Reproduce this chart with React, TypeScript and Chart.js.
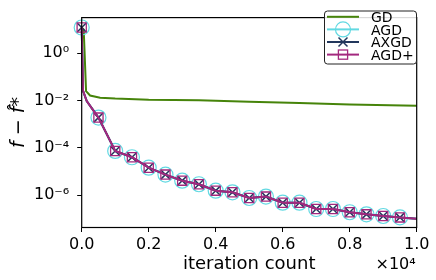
import React, { useEffect, useRef } from "react";
import { Chart, registerables } from "chart.js";

Chart.register(...registerables);

// ---- data ----
const gdIters = [0, 60, 130, 250, 550, 1000, 2000, 3500, 5000, 6500, 8000, 10000];
const gdValues = [12.2, 10, 0.025, 0.0163, 0.0132, 0.0121, 0.0108, 0.0102, 0.0089, 0.0078, 0.0068, 0.006];

const accelIters = [0, 40, 150, 500, 1000, 1500, 2000, 2500, 3000, 3500, 4000, 4500, 5000, 5500, 6000, 6500, 7000, 7500, 8000, 8500, 9000, 9500, 10000];
const agdValues = [12.2, 0.026, 0.0095, 1.9e-3, 7.4e-5, 4.0e-5, 1.45e-5, 7.4e-6, 4.1e-6, 2.9e-6, 1.55e-6, 1.32e-6, 7.6e-7, 8.7e-7, 4.8e-7, 4.8e-7, 2.6e-7, 2.6e-7, 1.9e-7, 1.55e-7, 1.32e-7, 1.15e-7, 1.0e-7];
const axgdValues = [12.2, 0.026, 0.0095, 1.9e-3, 7.4e-5, 4.0e-5, 1.45e-5, 7.4e-6, 4.1e-6, 2.9e-6, 1.55e-6, 1.32e-6, 7.6e-7, 8.7e-7, 4.8e-7, 4.8e-7, 2.6e-7, 2.6e-7, 1.9e-7, 1.55e-7, 1.32e-7, 1.15e-7, 1.0e-7];
const agdPlusValues = [12.2, 0.026, 0.0095, 1.9e-3, 7.4e-5, 4.0e-5, 1.45e-5, 7.4e-6, 4.1e-6, 2.9e-6, 1.55e-6, 1.32e-6, 7.6e-7, 8.7e-7, 4.8e-7, 4.8e-7, 2.6e-7, 2.6e-7, 1.9e-7, 1.55e-7, 1.32e-7, 1.15e-7, 1.0e-7];

const markerIters = [0, 500, 1000, 1500, 2000, 2500, 3000, 3500, 4000, 4500, 5000, 5500, 6000, 6500, 7000, 7500, 8000, 8500, 9000, 9500];

const seriesNames = ["GD", "AGD", "AXGD", "AGD+"];
const xTickValues = [0, 2000, 4000, 6000, 8000, 10000];
const xTickLabels = ["0.0", "0.2", "0.4", "0.6", "0.8", "1.0"];
const yTickValues = [1e-6, 1e-4, 1e-2, 1];
const yTickLabels = ["10⁻⁶", "10⁻⁴", "10⁻²", "10⁰"];
const xTitle = "iteration count";
const yTitle = "f − f̂*";
const xOffsetText = "×10⁴";

// ---- styles ----
const FONT = "DejaVu Sans";
const C_GD = "#46840a";
const C_AGD = "#62d9e2";
const C_AXGD = "#22375c";
const C_AGDP = "#a3287e";

const toPts = (xs: number[], ys: number[]) => xs.map((x, i) => ({ x, y: ys[i] }));
const markR = (r: number) => (ctx: any) => (ctx.raw && markerIters.includes(ctx.raw.x) ? r : 0);

const decorPlugin = {
  id: "decor",
  afterDraw(chart: any) {
    const { ctx, chartArea: a } = chart;
    ctx.save();
    // spines
    ctx.strokeStyle = "#000";
    ctx.lineWidth = 1.2;
    ctx.strokeRect(a.left, a.top, a.right - a.left, a.bottom - a.top);
    // offset text
    ctx.fillStyle = "#000";
    ctx.font = `16px "${FONT}"`;
    ctx.textAlign = "right";
    ctx.textBaseline = "alphabetic";
    ctx.fillText(xOffsetText, a.right - 1, 269);
    // legend
    const bx = 324.5, by = 11, bw = 92, bh = 53;
    ctx.beginPath();
    ctx.roundRect(bx, by, bw, bh, 3);
    ctx.fillStyle = "rgba(255,255,255,0.85)";
    ctx.fill();
    ctx.strokeStyle = "#222";
    ctx.lineWidth = 1;
    ctx.stroke();
    const colors = [C_GD, C_AGD, C_AXGD, C_AGDP];
    const x0 = 327, x1 = 359, xm = (x0 + x1) / 2;
    seriesNames.forEach((name, i) => {
      const y = 16.8 + i * 12.6;
      ctx.strokeStyle = colors[i];
      ctx.lineWidth = 2;
      ctx.beginPath();
      ctx.moveTo(x0, y);
      ctx.lineTo(x1, y);
      ctx.stroke();
      if (i === 1) {
        ctx.lineWidth = 1.2;
        ctx.beginPath();
        ctx.arc(xm, y, 7.5, 0, Math.PI * 2);
        ctx.stroke();
      } else if (i === 2) {
        ctx.lineWidth = 1.5;
        const s = 4.5;
        ctx.beginPath();
        ctx.moveTo(xm - s, y - s);
        ctx.lineTo(xm + s, y + s);
        ctx.moveTo(xm - s, y + s);
        ctx.lineTo(xm + s, y - s);
        ctx.stroke();
      } else if (i === 3) {
        ctx.lineWidth = 1.3;
        ctx.strokeRect(xm - 4.6, y - 4.6, 9.2, 9.2);
      }
      ctx.fillStyle = "#000";
      ctx.font = `14px "${FONT}"`;
      ctx.textAlign = "left";
      ctx.textBaseline = "alphabetic";
      ctx.fillText(name, 371, y + 5.2);
    });
    ctx.restore();
  },
};

export default function App() {
  const ref = useRef<HTMLCanvasElement | null>(null);
  useEffect(() => {
    document.body.style.margin = "0";
    const canvas = ref.current;
    if (!canvas) return;
    const chart = new Chart(canvas, {
      type: "line",
      data: {
        datasets: [
          {
            label: seriesNames[0],
            data: toPts(gdIters, gdValues),
            borderColor: C_GD,
            borderWidth: 2,
            pointRadius: 0,
            order: 4,
            clip: false as any,
          },
          {
            label: seriesNames[1],
            data: toPts(accelIters, agdValues),
            borderColor: C_AGD,
            borderWidth: 2,
            pointStyle: "circle",
            pointRadius: markR(7.5) as any,
            pointBorderWidth: 1.2,
            pointBorderColor: C_AGD,
            pointBackgroundColor: "rgba(0,0,0,0)",
            order: 3,
            clip: false as any,
          },
          {
            label: seriesNames[2],
            data: toPts(accelIters, axgdValues),
            borderColor: C_AXGD,
            borderWidth: 2,
            pointStyle: "crossRot",
            pointRadius: markR(6.4) as any,
            pointBorderWidth: 1.5,
            pointBorderColor: C_AXGD,
            pointBackgroundColor: "rgba(0,0,0,0)",
            order: 2,
            clip: false as any,
          },
          {
            label: seriesNames[3],
            data: toPts(accelIters, agdPlusValues),
            borderColor: C_AGDP,
            borderWidth: 2,
            pointStyle: "rect",
            pointRadius: markR(6.5) as any,
            pointBorderWidth: 1.3,
            pointBorderColor: C_AGDP,
            pointBackgroundColor: "rgba(0,0,0,0)",
            order: 1,
            clip: false as any,
          },
        ],
      },
      options: {
        animation: false,
        responsive: true,
        maintainAspectRatio: false,
        layout: { padding: { left: 0, right: 19.3, top: 10.5, bottom: 0 } },
        plugins: { legend: { display: false }, tooltip: { enabled: false } },
        events: [],
        scales: {
          x: {
            type: "linear",
            min: 0,
            max: 10000,
            afterBuildTicks: (s: any) => {
              s.ticks = xTickValues.map((v) => ({ value: v }));
            },
            afterFit: (s: any) => {
              s.height = 52.5;
            },
            ticks: {
              callback: (_v: any, i: number) => xTickLabels[i],
              font: { family: FONT, size: 16 },
              color: "#000",
              padding: 3,
              maxRotation: 0,
              autoSkip: false,
            },
            grid: { drawOnChartArea: false, drawTicks: true, tickLength: 4.5, color: "#000", lineWidth: 1 },
            border: { display: false },
            title: {
              display: true,
              text: xTitle,
              font: { family: FONT, size: 18 },
              color: "#000",
              padding: { top: 0, bottom: 5 },
            },
          },
          y: {
            type: "logarithmic",
            min: 4.3e-8,
            max: 32,
            bounds: "data",
            afterBuildTicks: (s: any) => {
              s.ticks = yTickValues.map((v) => ({ value: v }));
            },
            afterFit: (s: any) => {
              s.width = 81.7;
            },
            ticks: {
              callback: (_v: any, i: number) => yTickLabels[i],
              font: { family: FONT, size: 16 },
              color: "#000",
              padding: 8,
              autoSkip: false,
            },
            grid: { drawOnChartArea: false, drawTicks: true, tickLength: 4.5, color: "#000", lineWidth: 1 },
            border: { display: false },
            title: {
              display: true,
              text: yTitle,
              font: { family: FONT, size: 19, style: "italic" },
              color: "#000",
              padding: { top: 8, bottom: 0 },
            },
          },
        },
      },
      plugins: [decorPlugin],
    } as any);
    return () => chart.destroy();
  }, []);
  return (
    <div style={{ width: 436, height: 280, position: "relative" }}>
      <canvas ref={ref} />
    </div>
  );
}
